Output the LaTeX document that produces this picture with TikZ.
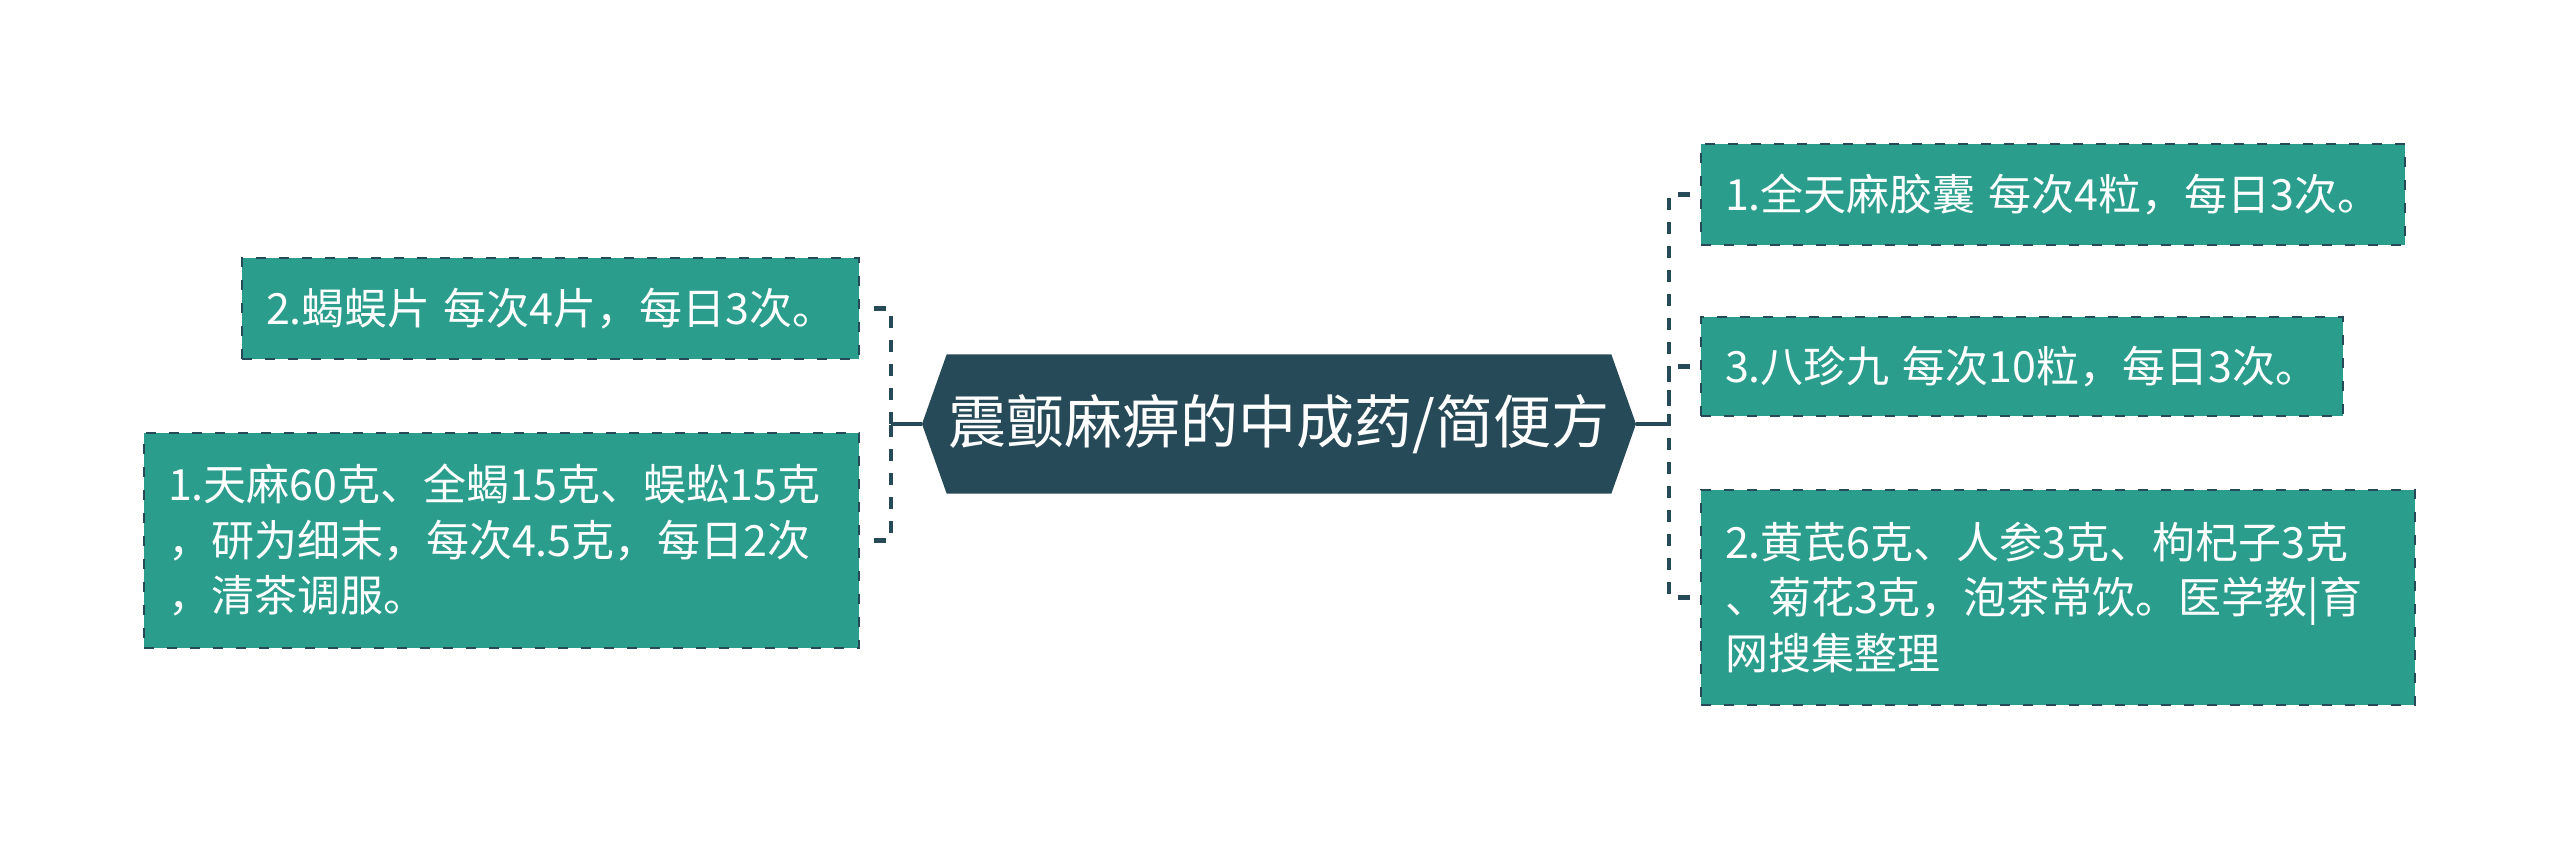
\documentclass[tikz,border=0pt]{standalone}
\usepackage{fontspec}
\setmainfont{Noto Sans CJK SC}
\usetikzlibrary{shapes.symbols}
\definecolor{fondvert}{HTML}{2A9D8C}
\definecolor{bleunuit}{HTML}{274A58}
\newcommand{\esp}{\hspace{.3em}}

\begin{document}
\begin{tikzpicture}[x=1pt,y=-1pt,
    boite/.style={draw=bleunuit,fill=fondvert,line width=2.5pt,dash pattern=on 10pt off 13pt,
      text=white,align=left,inner xsep=24pt,inner ysep=0pt,
      font=\fontsize{43}{55.5}\selectfont},
    lien/.style={draw=bleunuit,line width=4.5pt,dash pattern=on 12pt off 12pt}]
  \useasboundingbox (0,0) rectangle (2560,850);
  %CENTRE
  \node[signal,signal to=west and east,signal pointer angle=141,fill=bleunuit,text=white,
    minimum width=714pt,minimum height=139pt,inner sep=0pt,
    font=\fontsize{58}{62}\selectfont] (centre) at (1279,424) {震颤麻痹的中成药/简便方};
  %GAUCHE
  \node[boite,text width=569pt,minimum height=101pt] (g2) at (550.5,308.5) {\mbox{2.蝎蜈片\esp 每次4片，每日3次。}};
  \node[boite,text width=667pt,minimum height=215pt] (g1) at (501.5,540.5) {1.天麻60克、全蝎15克、蜈蚣15克\\，研为细末，每次4.5克，每日2次\\，清茶调服。};
  %DROITE
  \node[boite,text width=656pt,minimum height=101pt] (d1) at (2053,194.5) {\mbox{1.全天麻胶囊\esp 每次4粒，每日3次。}};
  \node[boite,text width=594pt,minimum height=99pt] (d3) at (2022,366.5) {\mbox{3.八珍九\esp 每次10粒，每日3次。}};
  \node[boite,text width=666pt,minimum height=215pt] (d2) at (2058,597.5) {2.黄芪6克、人参3克、枸杞子3克\\、菊花3克，泡茶常饮。医学教|育\\网搜集整理};
  %LIENS
  \coordinate (jg) at (891,424);
  \coordinate (jd) at (1669,424);
  \draw[bleunuit,line width=4.5pt] (centre.west) -- (jg);
  \draw[bleunuit,line width=4.5pt] (centre.east) -- (jd);
  \draw[lien] ([xshift=14pt]g2.east) -| (jg);
  \draw[lien] ([xshift=14pt]g1.east) -| (jg);
  \draw[lien] ([xshift=-10pt]d1.west) -| (jd);
  \draw[lien] ([xshift=-10pt]d3.west) -| (jd);
  \draw[lien] ([xshift=-10pt]d2.west) -| (jd);
\end{tikzpicture}
\end{document}
